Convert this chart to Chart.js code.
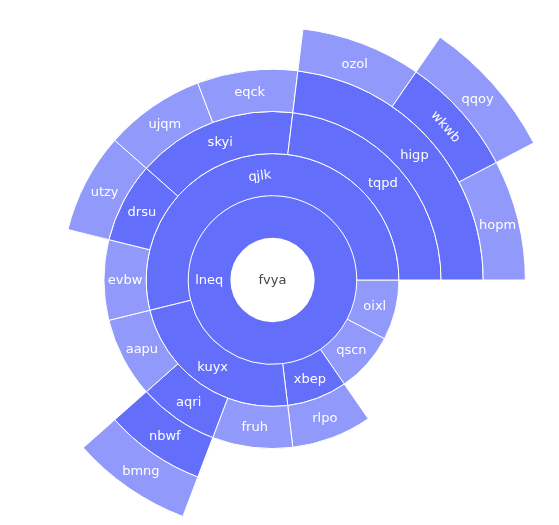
<!DOCTYPE html>
<html><head><meta charset="utf-8">
<style>html,body{margin:0;padding:0;background:#fff;}#wrap{width:559px;height:525px;}</style>
<script src="https://cdn.jsdelivr.net/npm/chart.js@4.4.0/dist/chart.umd.min.js"></script>
</head><body><div id="wrap"><canvas id="c" width="559" height="525"></canvas></div>
<script>
// Sunburst hierarchy (order = counter-clockwise from 3 o'clock)
const labels  = ['fvya','lneq','qjlk','kuyx','xbep','qscn','oixl','tqpd','skyi','drsu','evbw','aapu','aqri','fruh','rlpo','higp','eqck','ujqm','utzy','nbwf','hopm','wkwb','ozol','bmng','qqoy'];
const parents = ['','fvya','lneq','lneq','lneq','lneq','lneq','qjlk','qjlk','qjlk','qjlk','kuyx','kuyx','kuyx','xbep','tqpd','skyi','skyi','drsu','aqri','higp','higp','higp','nbwf','wkwb'];
const values  = [13,13,7,3,1,1,1,3,2,1,1,1,1,1,1,3,1,1,1,1,1,1,1,1,1];
const tangentialLabels = ['qjlk','wkwb'];

const BRANCH = '#636efa';
const LEAF = 'rgba(99,110,250,0.7)';
const GAP = 'rgba(0,0,0,0)';

const children = {};
labels.forEach((l, i) => { if (parents[i]) { (children[parents[i]] = children[parents[i]] || []).push(i); } });
const rings = [[{ idx: 0, v: values[0] }]];
while (true) {
  const prev = rings[rings.length - 1];
  const next = [];
  let any = false;
  prev.forEach(s => {
    if (s.idx == null) { next.push({ idx: null, v: s.v }); return; }
    const ch = children[labels[s.idx]];
    if (ch) { any = true; ch.forEach(ci => next.push({ idx: ci, v: values[ci] })); }
    else next.push({ idx: null, v: s.v });
  });
  if (!any) break;
  rings.push(next);
}
const maxDepth = rings.length - 1;

const datasets = [];
for (let d = maxDepth; d >= 0; d--) {
  const segs = rings[d].slice().reverse();
  const full = segs.length === 1;
  datasets.push({
    data: segs.map(s => s.v),
    segLabels: segs.map(s => s.idx == null ? null : labels[s.idx]),
    backgroundColor: segs.map(s => s.idx == null ? GAP : (s.idx === 0 ? '#ffffff' : (children[labels[s.idx]] ? BRANCH : LEAF))),
    borderColor: '#ffffff',
    borderWidth: segs.map(s => (s.idx == null || full) ? 0 : 1),
    clip: false
  });
}

const labelPlugin = {
  id: 'sunLabels',
  afterDatasetsDraw(chart) {
    const ctx = chart.ctx;
    ctx.save();
    ctx.font = '13px "DejaVu Sans"';
    ctx.textAlign = 'center';
    ctx.textBaseline = 'middle';
    chart.data.datasets.forEach((ds, di) => {
      const meta = chart.getDatasetMeta(di);
      meta.data.forEach((arc, j) => {
        const name = ds.segLabels[j];
        if (!name) return;
        const p = arc.getProps(['x','y','startAngle','endAngle','innerRadius','outerRadius'], true);
        let tx, ty, a = (p.startAngle + p.endAngle) / 2;
        if (p.innerRadius < 1) { tx = p.x; ty = p.y; }
        else {
          const r = (p.innerRadius + p.outerRadius) / 2;
          tx = p.x + r * Math.cos(a); ty = p.y + r * Math.sin(a);
        }
        ctx.save();
        ctx.translate(tx, ty);
        if (tangentialLabels.includes(name)) {
          let rot = a + Math.PI / 2;
          while (rot > Math.PI / 2) rot -= Math.PI;
          while (rot < -Math.PI / 2) rot += Math.PI;
          ctx.rotate(rot);
        }
        ctx.fillStyle = name === labels[0] ? '#444444' : '#ffffff';
        ctx.fillText(name, 0, 1);
        ctx.restore();
      });
    });
    ctx.restore();
  }
};

new Chart(document.getElementById('c'), {
  type: 'doughnut',
  data: { labels: datasets[0].data.map((_, i) => i), datasets },
  options: {
    responsive: false,
    devicePixelRatio: 1,
    animation: false,
    events: [],
    rotation: 90,
    cutout: 0,
    radius: 295,
    layout: { padding: { left: 0, right: 14, top: 35, bottom: 0 } },
    plugins: { legend: { display: false }, tooltip: { enabled: false } }
  },
  plugins: [labelPlugin]
});
</script>
</body></html>
